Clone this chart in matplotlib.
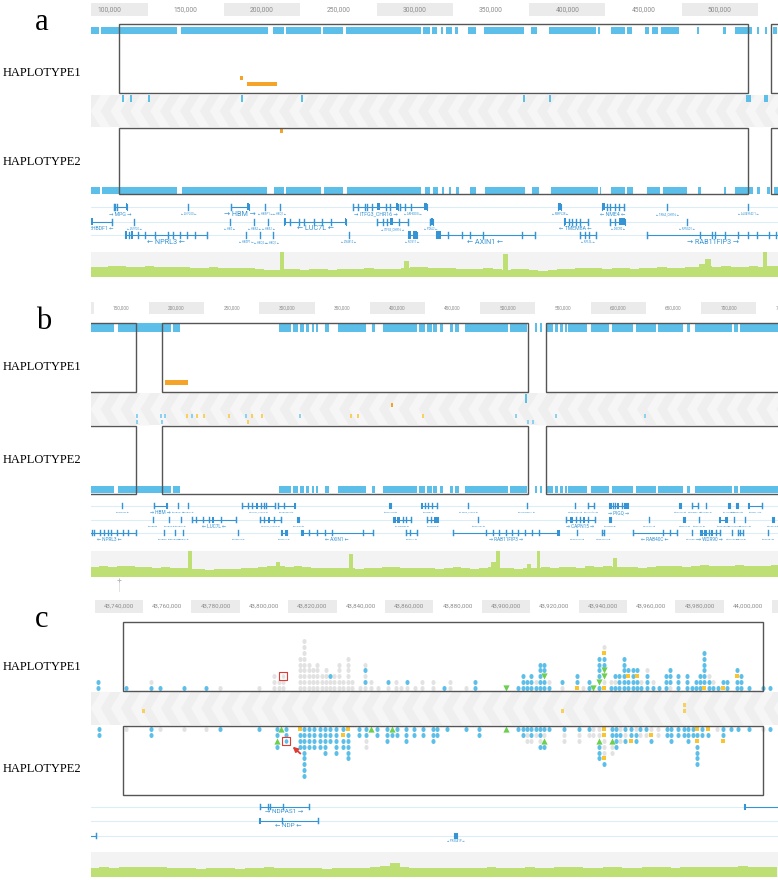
import numpy as np
import matplotlib
matplotlib.use("Agg")
import matplotlib.pyplot as plt
from matplotlib.patches import Rectangle, Polygon

# ============================ DATA (positions in kb) ============================
# ---------------- panel a ----------------
a_view = (112.65, 563.04)
a_tick_starts = [100, 150, 200, 250, 300, 350, 400, 450, 500]
a_tick_labels = ["100,000", "150,000", "200,000", "250,000", "300,000",
                 "350,000", "400,000", "450,000", "500,000"]
a_hap1_seg_start = [112.6, 119.2, 171.8, 232.3, 240.6, 265.1, 280.0, 330.6, 336.5, 342.2,
                    345.3, 351.4, 359.7, 370.6, 401.2, 413.0, 444.9, 453.4, 463.9, 475.9,
                    480.3, 486.4, 509.8, 527.2, 534.9, 549.1, 554.5, 560.0]
a_hap1_seg_end = [117.9, 169.0, 228.6, 239.3, 263.6, 278.2, 328.9, 335.0, 339.8, 343.7,
                  349.6, 353.5, 365.1, 396.8, 404.9, 443.8, 446.4, 462.8, 467.2, 478.7,
                  484.6, 498.4, 511.3, 528.8, 545.8, 550.8, 556.0, 562.2]
a_hap2_seg_start = [112.6, 120.1, 172.5, 232.8, 240.7, 265.6, 280.6, 331.5, 336.8, 342.9,
                    347.4, 352.0, 361.2, 371.0, 401.8, 414.3, 446.4, 453.7, 464.2, 477.2,
                    487.4, 510.6, 527.4, 534.8, 549.1, 555.6, 560.4]
a_hap2_seg_end = [118.8, 169.2, 228.5, 239.6, 263.6, 278.0, 329.4, 335.3, 340.2, 344.0,
                  348.8, 354.0, 365.1, 397.2, 406.1, 445.1, 447.1, 462.9, 467.9, 485.4,
                  503.4, 512.6, 528.7, 546.6, 551.3, 557.6, 563.0]
a_boxes = [(131.2, 543.4), (558.3, 575.0)]
a_hap1_orange_start = [210.5, 215.1]
a_hap1_orange_end = [212.4, 234.7]
a_hap2_orange_start = [236.4]
a_hap2_orange_end = [238.7]
a_band_pos = [133.6, 138.9, 150.7, 211.8, 251.1, 396.6, 413.6, 544.0, 555.0]
a_band_w = [1.3, 1.3, 1.3, 1.3, 1.3, 1.3, 1.3, 3.3, 2.6]
a_cov_start, a_cov_step = 112.0, 6.0
a_cov = [0.42, 0.40, 0.44, 0.43, 0.40, 0.42, 0.45, 0.41, 0.39, 0.42,
         0.40, 0.37, 0.38, 0.40, 0.36, 0.35, 0.38, 0.36, 0.33, 0.30,
         0.28, 0.33, 0.31, 0.30, 0.32, 0.31, 0.30, 0.33, 0.34, 0.32,
         0.35, 0.33, 0.32, 0.34, 0.36, 0.40, 0.42, 0.38, 0.35, 0.36,
         0.34, 0.33, 0.32, 0.35, 0.33, 0.30, 0.32, 0.31, 0.28, 0.26,
         0.30, 0.33, 0.34, 0.35, 0.38, 0.36, 0.34, 0.37, 0.35, 0.33,
         0.36, 0.38, 0.40, 0.37, 0.36, 0.39, 0.41, 0.44, 0.42, 0.45,
         0.40, 0.42, 0.44, 0.40, 0.45, 0.43]
a_cov_spikes = [(236.5, 3.0, 1.0), (318.0, 3.0, 0.62), (383.0, 3.0, 0.92),
                (511.0, 4.0, 0.52), (515.0, 4.0, 0.72), (553.0, 3.0, 1.0)]
# gene: (start, end, row, name, strand, label size class, exons)
a_genes = [
    (127.6, 136.4, 0, "MPG", "+", "M", [127.6, 128.6, 129.8, (135.5, 136.4)]),
    (176.7, 176.7, 0, "ZNF200", "-", "S", [176.7]),
    (204.6, 216.4, 0, "HBM", "+", "L", [204.6, (215.2, 216.4)]),
    (226.9, 226.9, 0, "HBAP1", "-", "S", [226.9]),
    (236.4, 236.4, 0, "HBQ1", "-", "S", [236.4]),
    (284.7, 314.0, 0, "ITFG3_CHR16", "+", "M",
     [284.7, 288.0, 292.5, 294.0, 297.0, (300.0, 302.0), 306.0, 309.0, (313.0, 314.0)]),
    (315.3, 332.8, 0, "ARHGDIG", "-", "S", [315.3, 318.5, 322.5, (331.0, 332.8)]),
    (419.0, 421.0, 0, "MRPL28", "-", "S", [(419.0, 421.0)]),
    (447.7, 462.1, 0, "NME4", "-", "M", [(447.7, 449.5), 451.0, 453.0, 456.0, 459.0, 462.1]),
    (490.6, 490.6, 0, "TRNA_CHR16", "-", "S", [490.6]),
    (543.5, 543.5, 0, "AL049542.1", "-", "S", [543.5]),
    (108.0, 126.6, 1, "RHBDF1", "-", "M", [(112.8, 114.2), 126.6]),
    (141.3, 141.3, 1, "Z69720", "-", "S", [141.3]),
    (203.9, 203.9, 1, "HBZ", "-", "S", [203.9]),
    (219.7, 219.7, 1, "HBA2", "-", "S", [219.7]),
    (229.1, 229.1, 1, "HBA1", "-", "S", [229.1]),
    (239.6, 280.0, 1, "LUC7L", "-", "L",
     [(239.6, 240.8), 243.0, 249.0, 252.5, 259.0, 264.0, 270.0, (279.0, 280.0)]),
    (300.3, 320.6, 1, "ITFG3_CHR16", "+", "S", [300.3, 304.0, 307.0, (309.0, 311.0), 314.5, 320.6]),
    (334.7, 336.8, 1, "PDIA2", "-", "S", [334.7, (335.5, 336.8)]),
    (422.5, 438.3, 1, "TMEM8A", "-", "M", [(422.5, 424.0), 426.0, 428.0, 430.5, 433.5, 438.3]),
    (452.9, 463.1, 1, "DECR2", "-", "S", [452.9, 456.5, (459.0, 463.1)]),
    (503.4, 503.4, 1, "RPUSD1", "-", "S", [503.4]),
    (134.9, 188.9, 2, "NPRL3", "-", "L",
     [(134.9, 136.4), 137.8, (139.0, 140.3), 143.5, 148.0, 155.0, 163.0, 166.5, 171.0, 175.5, 181.0, 188.9]),
    (214.4, 214.4, 2, "HBZP1", "-", "S", [214.4]),
    (223.6, 223.6, 2, "HBQ2", "-", "S", [223.6]),
    (232.1, 232.1, 2, "HBQ1", "-", "S", [232.1]),
    (281.9, 281.9, 2, "Z84812", "-", "S", [281.9]),
    (320.6, 326.5, 2, "RGS11", "-", "S", [(320.6, 322.5), (324.0, 326.5)]),
    (338.9, 403.5, 2, "AXIN1", "-", "L", [(338.9, 342.5), 347.0, 356.0, 361.5, 370.0, 395.5, 403.5]),
    (433.2, 443.5, 2, "RPL3L", "-", "S", [433.2, 436.5, 439.0, 443.5]),
    (477.2, 564.3, 2, "RAB11FIP3", "+", "L",
     [477.2, 512.0, 519.5, 521.5, 528.0, 537.0, 543.5, 549.0, 557.0, 562.0]),
]

# ---------------- panel b ----------------
b_view = (147.19, 769.75)
b_tick_starts = [100, 150, 200, 250, 300, 350, 400, 450, 500, 550, 600, 650, 700, 750]
b_tick_labels = ["100,000", "150,000", "200,000", "250,000", "300,000", "350,000", "400,000",
                 "450,000", "500,000", "550,000", "600,000", "650,000", "700,000", "750,000"]
b_seg_start = [147.0, 171.5, 221.3, 317.8, 330.7, 336.5, 342.2, 347.2, 351.3, 359.7,
               370.9, 402.0, 412.2, 444.8, 451.5, 457.5, 463.6, 472.7, 477.2, 486.2,
               527.0, 549.6, 554.2, 560.2, 567.8, 572.3, 576.8, 579.8, 600.4, 619.1,
               641.1, 661.3, 687.6, 694.6, 730.2, 735.3]
b_seg_end = [168.6, 219.9, 228.1, 328.4, 335.0, 340.1, 344.7, 349.5, 353.5, 362.9,
             396.6, 404.7, 442.5, 450.0, 456.1, 461.1, 466.6, 475.1, 481.1, 525.5,
             542.1, 551.2, 555.7, 566.2, 570.8, 575.3, 578.4, 596.5, 617.0, 638.7,
             659.3, 684.0, 690.0, 727.8, 733.3, 770.0]
b_boxes = [(140.0, 187.95), (212.05, 543.6), (559.6, 780.0)]
b_hap1_orange_start = [214.5]
b_hap1_orange_end = [235.3]
b_band_pos = [188.9, 210.6, 214.2, 234.7, 239.2, 243.2, 250.1, 272.7, 287.6, 293.6,
              302.6, 336.8, 383.0, 389.6, 448.2, 532.4, 568.7, 649.3,
              188.9, 211.5, 289.9, 543.3, 547.8, 419.8, 541.5]
b_band_row = [1] * 18 + [2] * 5 + [0, 3]
b_band_col = ["b", "b", "b", "y", "b", "y", "y", "y", "b", "y",
              "y", "b", "y", "y", "y", "b", "b", "b",
              "b", "b", "y", "b", "b", "o", "b"]
b_plus_pos = 173.1
b_cov_start, b_cov_step = 147.0, 8.0
b_cov = [0.38, 0.40, 0.39, 0.42, 0.40, 0.36, 0.38, 0.35, 0.37, 0.33,
         0.32, 0.30, 0.28, 0.27, 0.28, 0.30, 0.30, 0.32, 0.35, 0.36,
         0.40, 0.42, 0.38, 0.40, 0.36, 0.35, 0.33, 0.35, 0.32, 0.33,
         0.30, 0.34, 0.35, 0.38, 0.36, 0.33, 0.35, 0.34, 0.32, 0.30,
         0.33, 0.36, 0.35, 0.30, 0.33, 0.36, 0.35, 0.32, 0.30, 0.34,
         0.33, 0.36, 0.35, 0.38, 0.36, 0.35, 0.40, 0.38, 0.40, 0.37,
         0.39, 0.36, 0.35, 0.37, 0.40, 0.42, 0.40, 0.38, 0.42, 0.45,
         0.43, 0.40, 0.42, 0.45, 0.43, 0.40, 0.42, 0.45]
b_cov_spikes = [(235.0, 3.5, 1.0), (315.0, 4.0, 0.55), (381.0, 3.5, 0.88), (510.0, 4.0, 0.58),
                (514.0, 3.5, 1.0), (542.0, 4.0, 0.48), (551.0, 3.5, 1.0), (620.0, 3.5, 0.72)]
b_genes = [
    (175.8, 175.8, 0, "ZNF200", "-", "S", [175.8]),
    (204.5, 216.6, 0, "HBM", "+", "M", [204.5, (215.2, 216.6)]),
    (226.5, 226.5, 0, "HBAP1", "-", "S", [226.5]),
    (235.6, 235.6, 0, "HBQ1", "-", "S", [235.6]),
    (284.5, 314.1, 0, "ITFG3_CHR16", "+", "S",
     [284.5, 289.5, 293.5, (297.0, 299.0), 301.5, 304.0, 306.0, 314.1]),
    (316.8, 332.2, 0, "ARHGDIG", "-", "S", [316.8, 322.0, (331.0, 332.2)]),
    (417.3, 419.3, 0, "MRPL28", "-", "S", [(417.3, 419.3)]),
    (446.4, 460.6, 0, "NME4", "-", "S", [(446.4, 448.4), 450.0, 453.0, 456.5, 460.6]),
    (489.2, 489.2, 0, "TRNA_CHR16", "-", "S", [489.2]),
    (542.1, 542.1, 0, "AL049542.1", "-", "S", [542.1]),
    (585.9, 585.9, 0, "WFIKKN1", "+", "S", [585.9]),
    (597.4, 603.4, 0, "C16orf91", "-", "S", [597.4, 603.4]),
    (616.9, 633.6, 0, "PIGQ", "+", "M",
     [(616.9, 619.0), 620.5, 622.0, (623.5, 626.0), 628.0, (630.0, 633.6)]),
    (680.0, 682.0, 0, "RHOT2", "+", "S", [(680.0, 682.0)]),
    (691.6, 697.0, 0, "RHBDL1", "+", "S", [691.6, 697.0]),
    (704.5, 704.5, 0, "STUB1", "+", "S", [704.5]),
    (724.6, 726.6, 0, "JMJD8", "-", "S", [(724.6, 726.6)]),
    (731.3, 733.3, 0, "WDR24", "-", "S", [(731.3, 733.3)]),
    (742.9, 755.0, 0, "FBXL16", "-", "S", [(742.9, 744.3), 755.0]),
    (203.4, 203.4, 1, "HBZ", "-", "S", [203.4]),
    (218.4, 218.4, 1, "HBA2", "-", "S", [218.4]),
    (228.7, 228.7, 1, "HBA1", "-", "S", [228.7]),
    (239.2, 278.8, 1, "LUC7L", "-", "M", [239.2, 243.0, 249.0, 254.0, (257.0, 259.0), 265.0, 278.8]),
    (300.5, 319.3, 1, "ITFG3_CHR16", "+", "S", [300.5, 304.5, (307.5, 310.0), 313.0, 319.3]),
    (334.2, 336.2, 1, "PDIA2", "-", "S", [(334.2, 336.2)]),
    (421.3, 437.0, 1, "TMEM8A", "-", "S", [(421.3, 423.5), (425.0, 427.0), 430.0, 433.0, 437.0]),
    (452.1, 462.0, 1, "DECR2", "-", "S", [452.1, 455.0, (458.5, 462.0)]),
    (498.3, 498.3, 1, "RPUSD1", "-", "S", [498.3]),
    (577.4, 604.0, 1, "CAPN15", "+", "M",
     [577.4, (581.0, 584.5), 587.0, 590.0, (593.0, 595.0), 598.0, 604.0]),
    (616.6, 618.6, 1, "NARFL", "-", "S", [(616.6, 618.6)]),
    (653.2, 653.2, 1, "HAGHL", "+", "S", [653.2]),
    (683.9, 685.9, 1, "MSLN", "+", "S", [(683.9, 685.9)]),
    (698.2, 698.2, 1, "MSLNL", "-", "S", [698.2]),
    (716.2, 723.3, 1, "METRN", "-", "S", [(716.2, 718.2), (721.3, 723.3)]),
    (730.2, 730.2, 1, "CHTF18", "+", "S", [730.2]),
    (739.9, 739.9, 1, "GNG13", "-", "S", [739.9]),
    (764.0, 766.0, 1, "PRR35", "+", "S", [(764.0, 766.0)]),
    (140.0, 188.2, 2, "NPRL3", "-", "M",
     [148.1, 150.5, 155.5, 159.0, 163.0, 166.0, 171.0, 176.0, 181.0, 188.2]),
    (213.6, 213.6, 2, "HBZP1", "-", "S", [213.6]),
    (223.6, 223.6, 2, "HBQ2", "-", "S", [223.6]),
    (231.1, 231.1, 2, "HBQ1", "-", "S", [231.1]),
    (280.9, 280.9, 2, "Z84812", "-", "S", [280.9]),
    (319.6, 325.3, 2, "RGS11", "-", "S", [(319.6, 321.6), (323.3, 325.3)]),
    (337.7, 402.6, 2, "AXIN1", "-", "M", [(337.7, 340.5), 345.0, 352.0, 359.0, 366.0, 393.5, 402.6]),
    (432.5, 442.5, 2, "RPL3L", "-", "S", [432.5, 436.0, 442.5]),
    (475.6, 571.7, 2, "RAB11FIP3", "+", "M",
     [475.6, 505.0, 511.5, 517.0, 523.0, 528.5, 534.5, 540.5, 547.0, 553.5, (569.7, 571.7)]),
    (587.4, 587.4, 2, "WFIKKN1", "+", "S", [587.4]),
    (610.1, 612.1, 2, "METTL26", "+", "S", [610.1, 612.1]),
    (638.7, 678.0, 2, "RAB40C", "-", "M", [638.7, 665.5, 672.0, 678.0]),
    (691.6, 691.6, 2, "STUB1", "+", "S", [691.6]),
    (699.1, 717.2, 2, "WDR90", "+", "M",
     [(699.1, 701.5), (703.0, 705.5), 707.5, (709.0, 711.0), 714.0, 717.2]),
    (728.4, 728.4, 2, "NHLRC4", "+", "S", [728.4]),
    (733.8, 738.3, 2, "PIGQ", "-", "S", [733.8, 735.5, 738.3]),
    (760.4, 760.4, 2, "MSRB1", "-", "S", [760.4]),
]

# ---------------- panel c ----------------
c_view = (43738.39, 44022.40)
c_tick_starts = [43720, 43740, 43760, 43780, 43800, 43820, 43840, 43860, 43880,
                 43900, 43920, 43940, 43960, 43980, 44000, 44020]
c_tick_labels = ["", "43,740,000", "43,760,000", "43,780,000", "43,800,000",
                 "43,820,000", "43,840,000", "43,860,000", "43,880,000", "43,900,000",
                 "43,920,000", "43,940,000", "43,960,000", "43,980,000", "44,000,000", ""]
c_boxes = [(43751.6, 44016.1)]
# columns of variant symbols: (position kb, symbols from the haplotype edge outward)
# b = blue dot, g = grey dot, y = yellow, t = green triangle, R = red square, . = empty
c_hap1_cols = [
    (43741.4, "bb"), (43753.0, "b"), (43763.5, "bg"), (43767.2, "b"), (43776.8, "b"),
    (43786.0, "b"), (43791.7, "g"), (43807.8, "g"), (43814.2, "ggg"), (43816.0, "gg"),
    (43818.0, "ggR"), (43824.9, "gggggg"), (43826.6, "ggggggggg"), (43828.4, "ggggg"),
    (43830.2, "gggg"), (43832.0, "ggggg"), (43833.8, "ggg"), (43835.5, "gggg"),
    (43837.2, "ggb"), (43839.0, "ggg"), (43840.8, "ggggg"), (43842.8, "gg"),
    (43844.7, "gggggg"), (43846.5, "gg"), (43849.8, "g"), (43851.7, "gbgbg"),
    (43854.2, "gg"), (43857.1, "g"), (43861.2, "gb"), (43864.5, "gg"), (43866.8, "g"),
    (43869.0, "gb"), (43872.3, "g"), (43875.1, "gg"), (43879.7, "gg"), (43884.4, "b"),
    (43886.7, "gg"), (43893.5, "g"), (43897.0, "bb"), (43910.0, "t"), (43915.1, "b"),
    (43916.9, "bbb"), (43918.6, "bb"), (43920.4, "bbb"), (43922.3, "bg"), (43924.0, "bbbbb"),
    (43925.8, "bbtbb"), (43927.6, "bg"), (43933.3, "gb"), (43939.2, "ybb"), (43942.0, "g"),
    (43944.3, "bb"), (43946.1, "t"), (43948.4, "btbbbb"), (43950.6, "ygttbbyg"),
    (43953.3, "bg"), (43955.0, "bgb"), (43956.8, "bbb"), (43958.6, "bbbbbb"),
    (43960.5, "bbyb"), (43962.3, "bbbb"), (43964.1, "bbyb"), (43965.9, "bg"),
    (43968.1, "bbbg"), (43970.9, "bg"), (43973.3, "b"), (43976.0, "bbb"), (43977.8, "gbbb"),
    (43981.2, "bbb"), (43984.7, "bbb"), (43986.7, "b"), (43988.5, "bb"), (43990.3, "bbb"),
    (43992.0, "ybbbbbb"), (43993.8, "bbg"), (43995.7, "bg"), (43997.7, "b"), (43999.5, "yb"),
    (44001.2, "bb"), (44005.3, "bbyb"), (44007.1, "bbb"), (44010.3, "b"), (44016.1, "b"),
    (44019.1, "b"),
]
c_hap2_cols = [
    (43741.8, "bb"), (43753.0, "g"), (43763.5, "bb"), (43767.2, "g"), (43776.8, "g"),
    (43786.0, "g"), (43791.7, "b"), (43807.8, "b"), (43815.4, "bbtb"), (43817.2, "t"),
    (43819.0, "bbR"), (43824.9, "ybbb"), (43826.7, "bbbbbbbbb"), (43828.4, "bbbb"),
    (43830.8, "bbbb"), (43833.0, "bbbb"), (43835.4, "bbbbb"), (43837.2, "bbb"),
    (43839.7, "bbbbb"), (43842.8, "bybb"), (43844.7, "ybbbbb"), (43849.3, "bb"),
    (43852.0, "bbgg"), (43854.2, "t"), (43856.7, "bb"), (43860.7, "bbb"), (43862.7, "tb"),
    (43865.0, "bb"), (43868.6, "bbb"), (43872.0, "bb"), (43875.7, "bb"), (43879.7, "bbb"),
    (43881.5, "bb"), (43885.6, "b"), (43893.5, "b"), (43898.7, "bb"), (43910.0, "t"),
    (43915.1, "b"), (43916.9, "bb"), (43918.6, "bgg"), (43920.4, "bbg"), (43922.3, "bg"),
    (43924.0, "bbgb"), (43925.8, "bgtb"), (43927.6, "b"), (43934.0, "bgg"), (43940.0, "bgg"),
    (43944.3, "bg"), (43946.1, "gg"), (43948.4, "ggtbbb"), (43950.6, "yygggyb"),
    (43953.6, "bbtgg"), (43955.4, "bbbb"), (43957.2, "gbg"), (43959.0, "bgb"),
    (43961.8, "bby"), (43963.6, "gbb"), (43965.4, "bg"), (43967.8, "bg"), (43970.0, "gyb"),
    (43973.0, "gg"), (43976.5, "bb"), (43978.3, "bbb"), (43981.0, "bb"), (43983.5, "bb"),
    (43985.3, "bbb"), (43987.1, "bb"), (43989.0, "ybybbbb"), (43991.0, "bb"),
    (43993.6, "yb"), (43997.0, "g"), (43999.5, "bby"), (44003.0, "b"), (44006.0, "b"),
    (44010.3, "b"), (44016.1, "g"), (44019.1, "b"),
]
c_band_pos = [43760.2, 43933.4, 43983.9, 43983.6]
c_band_row = [2, 2, 1, 2]
c_cov_start, c_cov_step = 43738.0, 4.0
c_cov = [0.36, 0.38, 0.37, 0.39, 0.40, 0.38, 0.40, 0.38, 0.36, 0.37,
         0.35, 0.33, 0.34, 0.36, 0.35, 0.33, 0.34, 0.36, 0.38, 0.37,
         0.35, 0.34, 0.36, 0.35, 0.33, 0.35, 0.36, 0.34, 0.36, 0.38,
         0.42, 0.55, 0.40, 0.36, 0.35, 0.37, 0.36, 0.34, 0.35, 0.37,
         0.36, 0.38, 0.37, 0.35, 0.36, 0.38, 0.37, 0.36, 0.39, 0.38,
         0.40, 0.37, 0.36, 0.38, 0.39, 0.37, 0.36, 0.38, 0.40, 0.39,
         0.37, 0.38, 0.40, 0.41, 0.39, 0.38, 0.40, 0.42, 0.39, 0.38,
         0.41]
c_genes = [
    (43808.4, 43828.6, 0, "NDPAS1", "+", "L", [43808.4, 43811.5, 43812.6, 43818.0, 43828.6]),
    (44008.3, 44030.0, 0, "", "+", "S", [(44008.3, 44009.3)]),
    (43807.9, 43832.3, 1, "NDP", "-", "L", [(43807.9, 43808.8), 43817.5, 43832.3]),
    (43730.0, 43740.4, 2, "", "-", "S", [43740.4]),
    (43888.5, 43889.6, 2, "PRSS41P", "+", "S", [(43888.5, 43889.6)]),
]

# ============================ STYLE ============================
W, H = 778, 880
X0 = 90.7
BLUE = "#5bbfea"; GENE = "#3794d4"; ROWLINE = "#dcedf8"
COVG = "#bddf73"; COVBG = "#f3f3f3"; BAND = "#efefef"; CHEV = "#f6f6f6"
DOTG = "#e2e2e2"; YEL = "#f8c531"; ORA = "#f5a42a"; TRI = "#6ccf4d"
RED = "#e03a34"; BOX = "#555555"; TICKBG = "#ebebeb"; TICKTX = "#8c8c8c"
SERIF = ["Liberation Serif", "DejaVu Serif"]
SANS = ["Roboto", "DejaVu Sans"]
MARKC = {"b": "#8fd0f0", "y": "#f7d060", "o": ORA}

t = np.linspace(0, 2 * np.pi, 25)
ELL = list(zip(0.82 * np.cos(t), np.sin(t)))

fig = plt.figure(figsize=(W / 100, H / 100), dpi=100)
fig.patch.set_facecolor("white")


def panel_axes(view, ytop, ybot):
    ax = fig.add_axes([X0 / W, 1 - ybot / H, (W - X0) / W, (ybot - ytop) / H])
    ax.set_xlim(*view)
    ax.set_ylim(ybot, ytop)
    ax.axis("off")
    return ax


def tick_bar(ax, starts, labels, width, y0, y1, grey, fs):
    for s, lab, g in zip(starts, labels, grey):
        if g:
            ax.add_patch(Rectangle((s, y0), width, y1 - y0, facecolor=TICKBG, edgecolor="none"))
        if lab:
            ax.text(s + width / 2, (y0 + y1) / 2, lab, ha="center", va="center", fontsize=fs,
                    color=TICKTX, family=SANS, clip_on=True)


def band(ax, view, y0, y1, period):
    ax.add_patch(Rectangle((view[0], y0), view[1] - view[0], y1 - y0, facecolor=BAND,
                           edgecolor="none", zorder=0.2))
    ym = (y0 + y1) / 2
    for x in np.arange(view[0] - period, view[1] + period, period):
        pts = [(x, ym), (x + period * 0.5, y0), (x + period, y0), (x + period * 0.5, ym),
               (x + period, y1), (x + period * 0.5, y1)]
        ax.add_patch(Polygon(pts, closed=True, facecolor=CHEV, edgecolor="none", zorder=0.3))


def segs(ax, starts, ends, y0, y1, color=BLUE):
    ax.broken_barh([(s, e - s) for s, e in zip(starts, ends)], (y0, y1 - y0),
                   facecolors=color, edgecolors="none", zorder=2)


def boxes(ax, blist, y0, y1):
    for s, e in blist:
        ax.add_patch(Rectangle((s, y0), e - s, y1 - y0, fill=False, edgecolor=BOX, lw=1.0, zorder=5))


def coverage(ax, view, start, step, vals, spikes, y0, y1):
    ax.add_patch(Rectangle((view[0], y0), view[1] - view[0], y1 - y0, facecolor=COVBG, edgecolor="none"))
    h = y1 - y0
    edges = start + step * np.arange(len(vals) + 1)
    ax.stairs(y1 - np.array(vals) * h, edges, baseline=y1, fill=True, color=COVG)
    for pos, w, v in spikes:
        ax.add_patch(Rectangle((pos, y1 - v * h), w, v * h, facecolor=COVG, edgecolor="none"))


def genes(ax, view, glist, rows, tick_h, lab_dy, sizes):
    for y in rows:
        ax.plot(view, [y, y], color=ROWLINE, lw=0.8, zorder=0.5)
    for s, e, r, name, strand, sz, exons in glist:
        y = rows[r]
        if e > s:
            ax.plot([s, e], [y, y], color=GENE, lw=0.8, solid_capstyle="butt")
            for xe in (s, e):
                ax.plot([xe, xe], [y - tick_h / 2, y + tick_h / 2], color=GENE, lw=0.8)
        for ex in exons:
            if isinstance(ex, tuple):
                ax.add_patch(Rectangle((ex[0], y - tick_h * 0.6), ex[1] - ex[0], tick_h * 1.2,
                                       facecolor=GENE, edgecolor="none"))
            else:
                ax.plot([ex, ex], [y - tick_h / 2, y + tick_h / 2], color=GENE, lw=1.0)
        if name:
            arr = "\u2192" if strand == "+" else "\u2190"
            ax.text((s + e) / 2, y + lab_dy, f"{arr} {name} {arr}", ha="center", va="center",
                    fontsize=sizes[sz], color=GENE, family=SANS, clip_on=True)


def dots(ax, cols, base, step, inner):
    pts = {k: ([], []) for k in "bgytR"}
    for pos, pat in cols:
        for k, ch in enumerate(pat):
            if ch == ".":
                continue
            pts[ch][0].append(pos)
            pts[ch][1].append(base + step * k)
    ax.scatter(*pts["g"], marker=ELL, s=13, color=DOTG, linewidths=0, zorder=3)
    ax.scatter(*pts["b"], marker=ELL, s=13, color=BLUE, linewidths=0, zorder=3)
    ax.scatter(*pts["y"], marker="s", s=11, color=YEL, linewidths=0, zorder=3)
    ax.scatter(*pts["t"], marker="v" if step < 0 else "^", s=20, color=TRI, linewidths=0, zorder=3)
    ax.scatter(*pts["R"], marker=ELL, s=11, color=inner, linewidths=0, zorder=3)
    ax.scatter(*pts["R"], marker="s", s=34, facecolors="none", edgecolors=RED, linewidths=0.8, zorder=4)
    return pts["R"]


# ============================ PANEL a ============================
ax = panel_axes(a_view, 0, 298)
tick_bar(ax, a_tick_starts, a_tick_labels, 50, 3.5, 16.3, [s % 100 == 0 for s in a_tick_starts], 4.9)
band(ax, a_view, 95.0, 127.2, 13.0)
for p, w in zip(a_band_pos, a_band_w):
    ax.add_patch(Rectangle((p - w / 2, 95.5), w, 6.2, facecolor=BLUE, edgecolor="none", zorder=2))
segs(ax, a_hap1_seg_start, a_hap1_seg_end, 26.7, 34.0)
segs(ax, a_hap2_seg_start, a_hap2_seg_end, 186.7, 193.7)
boxes(ax, a_boxes, 24.3, 93.0)
boxes(ax, a_boxes, 127.7, 194.0)
ax.add_patch(Rectangle((a_hap1_orange_start[0], 76.0), a_hap1_orange_end[0] - a_hap1_orange_start[0], 4.0,
                       facecolor=ORA, edgecolor="none"))
ax.add_patch(Rectangle((a_hap1_orange_start[1], 82.2), a_hap1_orange_end[1] - a_hap1_orange_start[1], 4.0,
                       facecolor=ORA, edgecolor="none"))
ax.add_patch(Rectangle((a_hap2_orange_start[0], 129.2), a_hap2_orange_end[0] - a_hap2_orange_start[0], 4.0,
                       facecolor=ORA, edgecolor="none"))
genes(ax, a_view, a_genes, [206.7, 221.7, 235.0], 6.0, 7.3, {"L": 5.2, "M": 3.8, "S": 2.0})
coverage(ax, a_view, a_cov_start, a_cov_step, a_cov, a_cov_spikes, 251.7, 277.3)

# ============================ PANEL b ============================
ax = panel_axes(b_view, 298, 596)
tick_bar(ax, b_tick_starts, b_tick_labels, 50, 301.7, 314.0, [s % 100 == 0 for s in b_tick_starts], 3.4)
band(ax, b_view, 393.0, 425.5, 18.0)
band_rows = {0: (403.0, 407.3), 1: (414.3, 418.3), 2: (420.0, 424.3), 3: (394.0, 403.0)}
for p, r, c in zip(b_band_pos, b_band_row, b_band_col):
    w = 2.5 if r == 3 else 1.6
    y0, y1 = band_rows[r]
    ax.add_patch(Rectangle((p - w / 2, y0), w, y1 - y0, facecolor=MARKC[c] if r != 3 else BLUE,
                           edgecolor="none", zorder=2))
segs(ax, b_seg_start, b_seg_end, 323.3, 332.3)
segs(ax, b_seg_start, b_seg_end, 485.8, 493.3)
boxes(ax, b_boxes, 323.3, 392.0)
boxes(ax, b_boxes, 425.7, 494.0)
ax.add_patch(Rectangle((b_hap1_orange_start[0], 380.2), b_hap1_orange_end[0] - b_hap1_orange_start[0], 4.6,
                       facecolor=ORA, edgecolor="none"))
genes(ax, b_view, b_genes, [506.0, 520.0, 533.0], 5.0, 6.5, {"L": 4.2, "M": 3.4, "S": 1.6})
coverage(ax, b_view, b_cov_start, b_cov_step, b_cov, b_cov_spikes, 550.7, 576.7)
ax.plot([b_plus_pos, b_plus_pos], [580.0, 591.0], color="#dddddd", lw=0.6)
ax.plot([b_plus_pos], [580.0], marker="+", color="#bbbbbb", ms=3.5, mew=0.7)

# ============================ PANEL c ============================
ax = panel_axes(c_view, 596, 880)
tick_bar(ax, c_tick_starts, c_tick_labels, 20, 600.0, 613.0,
         [((s - 43740) // 20) % 2 == 0 for s in c_tick_starts], 4.4)
band(ax, c_view, 691.7, 725.0, 8.3)
c_rows = {1: (702.5, 706.5), 2: (708.5, 712.5)}
for p, r in zip(c_band_pos, c_band_row):
    y0, y1 = c_rows[r]
    ax.add_patch(Rectangle((p - 0.6, y0), 1.2, y1 - y0, facecolor="#f7d060", edgecolor="none", zorder=2))
boxes(ax, c_boxes, 622.3, 691.0)
boxes(ax, c_boxes, 725.7, 795.0)
dots(ax, c_hap1_cols, 687.7, -5.8, DOTG)
rx, ry = dots(ax, c_hap2_cols, 729.3, 5.8, BLUE)
ax.annotate("", xy=(rx[0] + 2.0, ry[0] + 4.0), xytext=(rx[0] + 6.9, ry[0] + 14.5),
            arrowprops=dict(arrowstyle="-|>", color=RED, lw=1.3, mutation_scale=7), zorder=6)
genes(ax, c_view, c_genes, [806.7, 820.7, 835.7], 5.0, 5.2, {"L": 4.6, "M": 3.6, "S": 2.0})
coverage(ax, c_view, c_cov_start, c_cov_step, c_cov, [], 851.7, 877.0)

# ============================ LABELS ============================
for letter, x, yb in [("a", 41.5, 30.0), ("b", 44.0, 329.3), ("c", 42.0, 627.0)]:
    fig.text(x / W, 1 - yb / H, letter, fontsize=22, family=SERIF, ha="center", va="baseline")
for lab, yb in [("HAPLOTYPE1", 76.0), ("HAPLOTYPE2", 165.0), ("HAPLOTYPE1", 370.0),
                ("HAPLOTYPE2", 463.3), ("HAPLOTYPE1", 670.0), ("HAPLOTYPE2", 772.0)]:
    fig.text(3 / W, 1 - yb / H, lab, fontsize=9, family=SERIF, ha="left", va="baseline")

fig.savefig("out.png", dpi=100)
